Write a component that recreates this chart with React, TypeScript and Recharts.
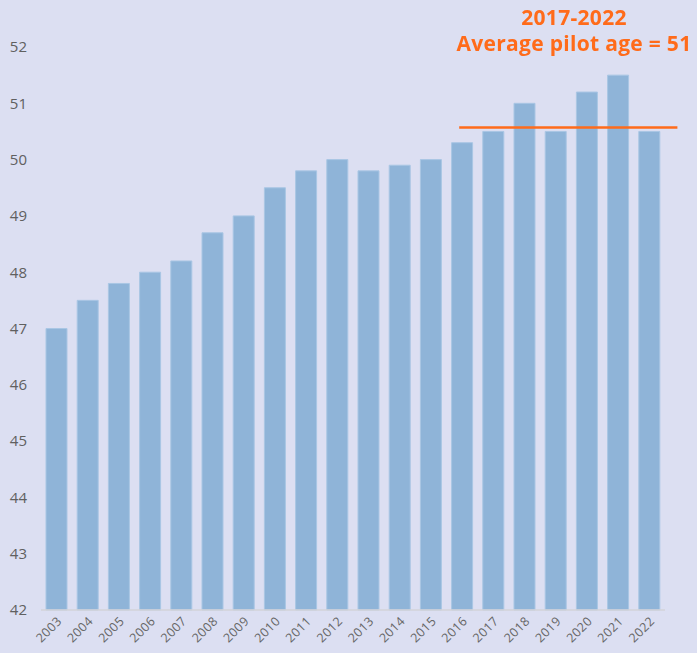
import React from 'react';
import { Bar, BarChart, ReferenceLine, XAxis, YAxis } from 'recharts';

const years = ['2003', '2004', '2005', '2006', '2007', '2008', '2009', '2010', '2011', '2012',
  '2013', '2014', '2015', '2016', '2017', '2018', '2019', '2020', '2021', '2022'];
const avgAge = [47, 47.5, 47.8, 48, 48.2, 48.7, 49, 49.5, 49.8, 50,
  49.8, 49.9, 50, 50.3, 50.5, 51, 50.5, 51.2, 51.5, 50.5];
const yTicks = [42, 43, 44, 45, 46, 47, 48, 49, 50, 51, 52];
const averageLine = 50.57;
const titleLines = ['2017-2022', 'Average pilot age = 51'];

const data = years.map((year, i) => ({ year, age: avgAge[i] }));

const FONT = '"Open Sans", "DejaVu Sans", sans-serif';

const YearTick = (props: any) => {
  const { x, y, payload } = props;
  return (
    <g transform={`translate(${x + 6},${y + 4})`}>
      <text textAnchor="end" transform="rotate(-45)" fill="#666" fontSize={12.5} letterSpacing={0.4} fontFamily={FONT}>
        {payload.value}
      </text>
    </g>
  );
};

const AvgLine = (props: any) => {
  const { x1, y1, x2 } = props;
  return <line x1={x1 - 3} y1={y1} x2={x2 + 28} y2={y1} stroke="#FF6B1A" strokeWidth={2.5} />;
};

export default function App() {
  return (
    <div style={{ position: 'fixed', left: 0, top: 0, width: 697, height: 653, background: '#DCDFF2' }}>
      <BarChart
        width={697}
        height={653}
        data={data}
        margin={{ top: 47, right: 32, left: 0, bottom: 0 }}
        barSize={21}
      >
        <XAxis
          dataKey="year"
          height={43}
          interval={0}
          tickLine={false}
          axisLine={{ stroke: '#d3d3d8', strokeWidth: 1.5 }}
          tick={<YearTick />}
        />
        <YAxis
          width={41}
          domain={[42, 52]}
          ticks={yTicks}
          axisLine={false}
          tickLine={false}
          tickMargin={8}
          tick={{ fill: '#606060', fontSize: 15, fontFamily: FONT }}
        />
        <Bar dataKey="age" fill="#8FB4D8" stroke="#A9C6E4" strokeWidth={1} isAnimationActive={false} />
        <ReferenceLine
          segment={[{ x: '2016', y: averageLine }, { x: '2022', y: averageLine }]}
          shape={<AvgLine />}
          ifOverflow="visible"
        />
      </BarChart>
      <div
        style={{
          position: 'absolute',
          left: 440,
          top: 4,
          width: 268,
          textAlign: 'center',
          color: '#FF6B1A',
          fontFamily: FONT,
          fontWeight: 700,
          fontSize: 21,
          letterSpacing: 0.3,
          lineHeight: '26px',
        }}
      >
        {titleLines.map((t) => (
          <div key={t}>{t}</div>
        ))}
      </div>
    </div>
  );
}
